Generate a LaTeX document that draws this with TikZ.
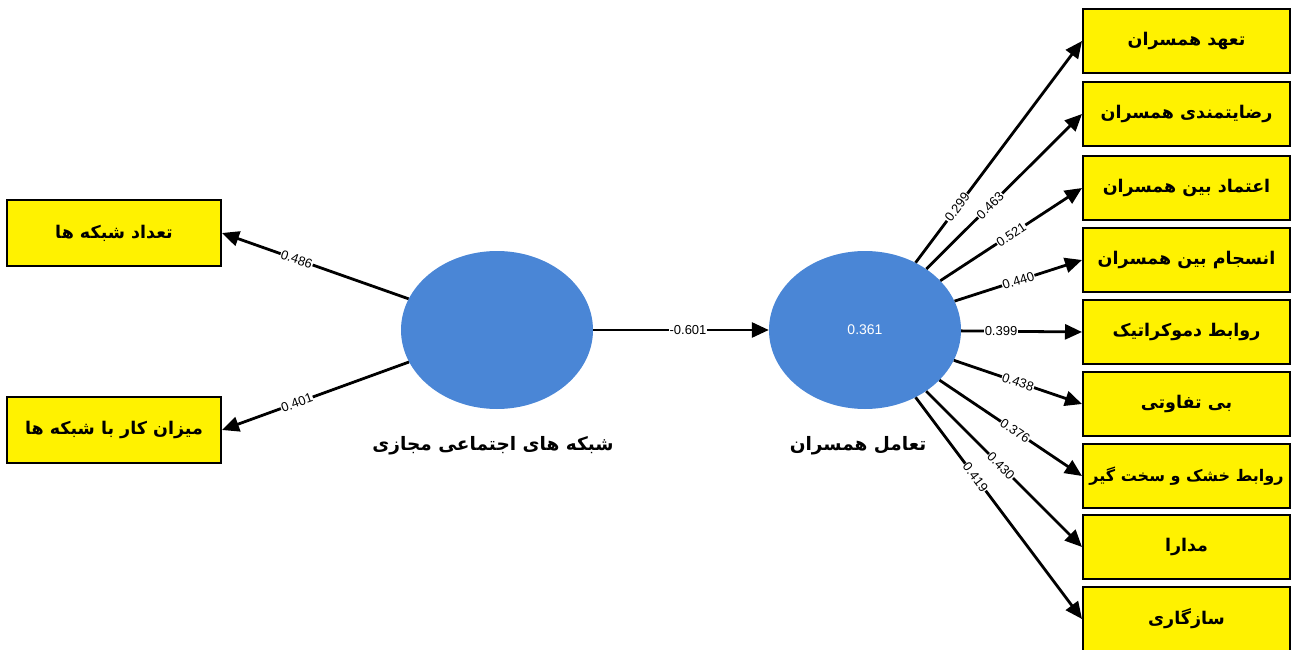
\documentclass[tikz,border=0pt]{standalone}
\usepackage{fontspec}
\setmainfont{Liberation Sans}
\newfontfamily\fa[Script=Arabic]{DejaVu Sans}
\TeXXeTstate=1
\usetikzlibrary{shapes.geometric,arrows.meta}
\definecolor{ellblue}{RGB}{74,134,214}
\tikzset{
  ybox/.style={draw=black,line width=2pt,fill=yellow,minimum width=207pt,minimum height=64pt,inner sep=0pt,font=\fa\bfseries\fontsize{17.5}{20}\selectfont},
  lbox/.style={ybox,minimum width=214pt,minimum height=66pt},
  lv/.style={ellipse,fill=ellblue,minimum width=192pt,minimum height=158pt,inner sep=0pt},
  arr/.style={line width=2.8pt,-{Triangle[length=17pt,width=15pt]}},
  lbl/.style={sloped,fill=white,inner sep=0.6pt,font=\fontsize{13}{14}\selectfont},
  lvcaption/.style={font=\fa\bfseries\fontsize{18.5}{22}\selectfont}
}
\begin{document}
\begin{tikzpicture}[x=1pt,y=-1pt]
\useasboundingbox (0,0) rectangle (1293,650);
% latent variables
\node[lv] (L) at (497,330) {};
\node[lv,text=white,font=\fontsize{14}{16}\selectfont] (R) at (865,330) {0.361};
\node[lvcaption] (Lc) at (493,446) {\beginR شبکه های اجتماعی مجازی\endR};
\node[lvcaption] (Rc) at (858,446) {\beginR تعامل همسران\endR};
% left indicators
\node[lbox] (a1) at (114,233) {\beginR تعداد شبکه ها\endR};
\node[lbox] (a2) at (114,430) {\beginR میزان کار با شبکه ها\endR};
% right indicators
\node[ybox] (b1) at (1186.5,41) {\beginR تعهد همسران\endR};
\node[ybox] (b2) at (1186.5,114) {\beginR رضایتمندی همسران\endR};
\node[ybox] (b3) at (1186.5,188) {\beginR اعتماد بین همسران\endR};
\node[ybox] (b4) at (1186.5,260) {\beginR انسجام بین همسران\endR};
\node[ybox] (b5) at (1186.5,332) {\beginR روابط دموکراتیک\endR};
\node[ybox] (b6) at (1186.5,404) {\beginR بی تفاوتی\endR};
\node[ybox,font=\fa\bfseries\fontsize{16}{20}\selectfont] (b7) at (1186.5,476) {\beginR روابط خشک و سخت گیر\endR};
\node[ybox] (b8) at (1186.5,547) {\beginR مدارا\endR};
\node[ybox] (b9) at (1186.5,619) {\beginR سازگاری\endR};
% connectors
\draw[arr] (L) -- node[lbl,pos=0.6] {0.486} (a1.east);
\draw[arr] (L) -- node[lbl,pos=0.6] {0.401} (a2.east);
\draw[arr] (L) -- node[lbl,pos=0.54] {-0.601} (R);
\draw[arr] (R) -- node[lbl,pos=0.25] {0.299} (b1.west);
\draw[arr] (R) -- node[lbl,pos=0.41] {0.463} (b2.west);
\draw[arr] (R) -- node[lbl,pos=0.5] {0.521} (b3.west);
\draw[arr] (R) -- node[lbl,pos=0.5] {0.440} (b4.west);
\draw[arr] (R) -- node[lbl,pos=0.33] {0.399} (b5.west);
\draw[arr] (R) -- node[lbl,pos=0.5] {0.438} (b6.west);
\draw[arr] (R) -- node[lbl,pos=0.53] {0.376} (b7.west);
\draw[arr] (R) -- node[lbl,pos=0.48] {0.430} (b8.west);
\draw[arr] (R) -- node[lbl,pos=0.36] {0.419} (b9.west);
\end{tikzpicture}
\end{document}
